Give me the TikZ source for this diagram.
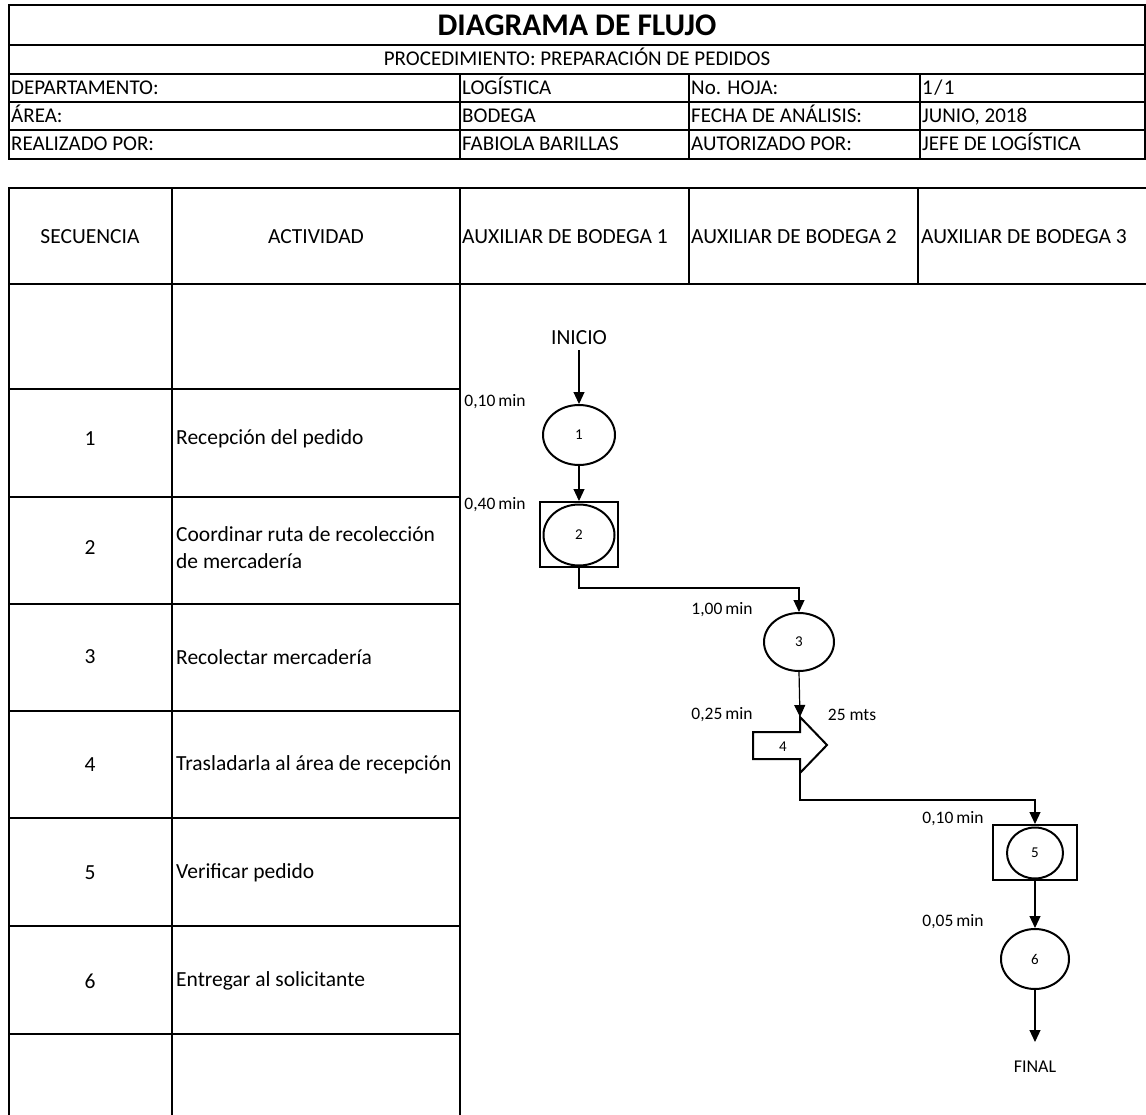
\documentclass[tikz,border=0pt]{standalone}
\usepackage{fontspec}
\setmainfont{Carlito}
\usetikzlibrary{arrows.meta,shapes.geometric,calc}
\begin{document}
\begin{tikzpicture}[x=1pt,y=-1pt,
  grid/.style={line width=2pt,line cap=rect},
  shp/.style={draw,line width=2pt},
  circ/.style={shp,ellipse,inner sep=0pt,font=\fontsize{15}{17}\selectfont},
  conn/.style={line width=1.2pt,-{Triangle[length=12pt,width=11pt]}},
  lbl/.style={font=\fontsize{17.5}{20}\selectfont,inner sep=0pt},
  num/.style={font=\fontsize{15}{17}\selectfont,inner sep=0pt},
  cell/.style={font=\fontsize{21}{24}\selectfont,inner sep=0pt,anchor=base west},
  ccell/.style={font=\fontsize{21}{24}\selectfont,inner sep=0pt,anchor=base},
  body/.style={font=\fontsize{21.5}{27}\selectfont,inner sep=0pt},
  ]
\useasboundingbox (0,0) rectangle (1146,1115);
% ---------- top table ----------
\draw[grid] (9,5) rectangle (1145,159);
\draw[grid] (9,45) -- (1145,45);
\draw[grid] (9,74) -- (1145,74);
\draw[grid] (9,102) -- (1145,102);
\draw[grid] (9,130) -- (1145,130);
\draw[grid] (460,74) -- (460,159);
\draw[grid] (689,74) -- (689,159);
\draw[grid] (920,74) -- (920,159);
\node[font=\fontsize{31.5}{34}\selectfont\bfseries,inner sep=0pt,anchor=base] (title) at (577,36) {DIAGRAMA DE FLUJO};
\node[ccell] (proc) at (577,66) {PROCEDIMIENTO: PREPARACIÓN DE PEDIDOS};
\node[cell] (d1) at (11,95) {DEPARTAMENTO:};
\node[cell] (d2) at (462,95) {LOGÍSTICA};
\node[cell] (d3) at (691,95) {No. HOJA:};
\node[cell] (d4) at (922,95) {1\kern1.5pt/\kern1.5pt1};
\node[cell] (a1) at (11,123) {ÁREA:};
\node[cell] (a2) at (462,123) {BODEGA};
\node[cell] (a3) at (691,123) {FECHA DE ANÁLISIS:};
\node[cell] (a4c) at (922,123) {JUNIO, 2018};
\node[cell] (r1) at (11,151) {REALIZADO POR:};
\node[cell] (r2) at (462,151) {FABIOLA BARILLAS};
\node[cell] (r3) at (691,151) {AUTORIZADO POR:};
\node[cell] (r4) at (922,151) {JEFE DE LOGÍSTICA};
% ---------- main table ----------
\draw[grid] (9,188) -- (1146,188);
\draw[grid] (9,284) -- (1146,284);
\draw[grid] (9,188) -- (9,1115);
\draw[grid] (172,188) -- (172,1115);
\draw[grid] (460,188) -- (460,1115);
\draw[grid] (689,188) -- (689,284);
\draw[grid] (918,188) -- (918,284);
\foreach \yy in {389,497,604,711,818,926,1034} {\draw[grid] (9,\yy) -- (460,\yy);}
\node[body] (hsec) at (90,237) {SECUENCIA};
\node[body] (hact) at (316,237) {ACTIVIDAD};
\node[body,anchor=west] (hb1) at (462,237) {AUXILIAR DE BODEGA 1};
\node[body,anchor=west] (hb2) at (691,237) {AUXILIAR DE BODEGA 2};
\node[body,anchor=west] (hb3) at (921,237) {AUXILIAR DE BODEGA 3};
\node[body] (s1) at (90,439) {1};
\node[body] (s2) at (90,548) {2};
\node[body] (s3) at (90,657) {3};
\node[body] (s4) at (90,765) {4};
\node[body] (s5) at (90,873) {5};
\node[body] (s6) at (90,981) {6};
\node[body,anchor=west] (t1) at (176,439) {Recepción del pedido};
\node[body,anchor=west,align=left] (t2) at (176,548) {Coordinar ruta de recolección\\de mercadería};
\node[body,anchor=west] (t3) at (176,657) {Recolectar mercadería};
\node[body,anchor=west] (t4) at (176,765) {Trasladarla al área de recepción};
\node[body,anchor=west] (t5) at (176,873) {Verificar pedido};
\node[body,anchor=west] (t6) at (176,981) {Entregar al solicitante};
% ---------- flow ----------
\node[font=\fontsize{21.5}{24}\selectfont,inner sep=0pt] (ini) at (579,338) {INICIO};
\node[circ,minimum width=72pt,minimum height=60pt] (c1) at (579,435) {1};
\node[shp,minimum width=78pt,minimum height=65pt,inner sep=0pt] (b2) at (579,534.5) {};
\node[circ,minimum width=71pt,minimum height=61pt] (c2) at (579,535) {2};
\node[circ,minimum width=70pt,minimum height=58pt] (c3) at (799,642) {3};
\draw[shp] (753,732) -- (800,732) -- (800,717) -- (827,745) -- (800,773) -- (800,759) -- (753,759) -- cycle;
\coordinate (a4in) at (800,717);
\coordinate (a4out) at (800,773);
\node[num] (n4) at (783,747) {4};
\node[shp,minimum width=84pt,minimum height=55pt,inner sep=0pt] (b5) at (1035,852.5) {};
\node[circ,minimum width=56pt,minimum height=51pt] (c5) at (1035,853) {5};
\node[circ,minimum width=68pt,minimum height=60pt] (c6) at (1035,959) {6};
\coordinate (fin) at (1035,1042);
\node[font=\fontsize{18}{20}\selectfont,inner sep=0pt] (final) at (1035,1067) {FINAL};
\draw[conn] (ini.south) ++(0,5) -- (c1.north);
\draw[conn] (c1.south) -- (b2.north);
\draw[conn] (b2.south) -- ++(0,20) -| (c3.north);
\draw[conn] (c3.south) -- (a4in);
\draw[conn] (a4out) -- ++(0,27) -| (b5.north);
\draw[conn] (b5.south) -- (c6.north);
\draw[conn] (c6.south) -- (fin);
% labels
\node[lbl] (l1) at (495,402) {0,10\,min};
\node[lbl] (l2) at (495,505) {0,40\,min};
\node[lbl] (l3) at (722,610) {1,00\,min};
\node[lbl] (l4) at (722,715) {0,25\,min};
\node[lbl] (l4b) at (852,715) {25 mts};
\node[lbl] (l5) at (953,819) {0,10\,min};
\node[lbl] (l6) at (953,922) {0,05\,min};
\end{tikzpicture}
\end{document}
